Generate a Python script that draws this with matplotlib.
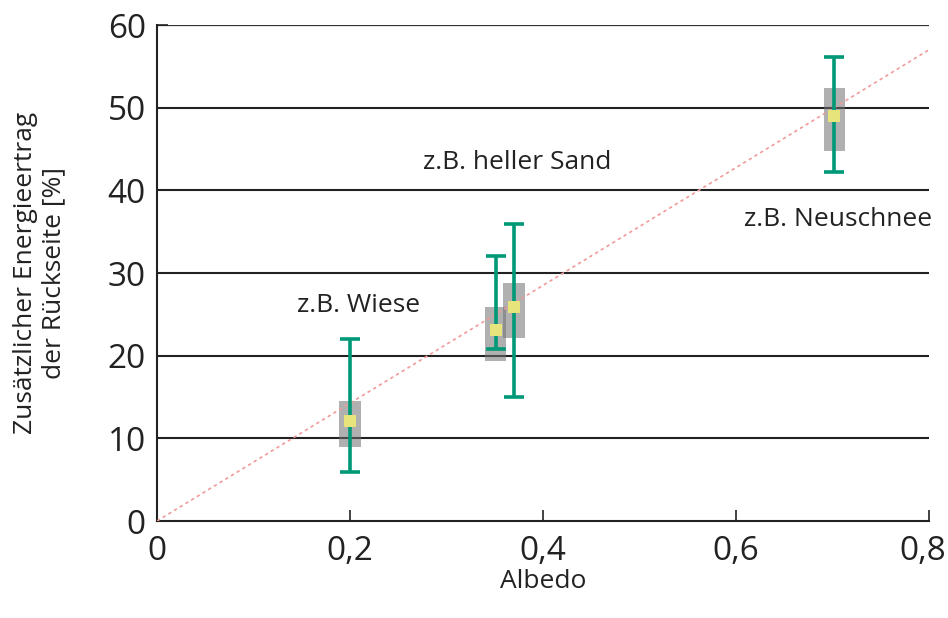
import matplotlib
matplotlib.use("Agg")
import matplotlib.pyplot as plt
from matplotlib.transforms import ScaledTranslation

plt.rcParams['font.family'] = ['Open Sans', 'DejaVu Sans']

albedo = [0.2, 0.351, 0.37, 0.702]
mean_gain = [12.1, 23.1, 25.9, 49.0]
err_low = [5.9, 20.8, 15.0, 42.2]
err_high = [22.0, 32.1, 35.9, 56.1]
box_low = [8.9, 19.3, 22.1, 44.7]
box_high = [14.5, 25.9, 28.8, 52.4]
trend_x = [0.0, 0.8]
trend_y = [0.0, 57.0]
labels = ["z.B. Wiese", "z.B. heller Sand", "z.B. Neuschnee"]
label_x = [0.209, 0.373, 0.706]
label_y = [26.1, 43.4, 36.5]
xticks = [0, 0.2, 0.4, 0.6, 0.8]
xticklabels = ["0", "0,2", "0,4", "0,6", "0,8"]
yticks = [0, 10, 20, 30, 40, 50, 60]

fig = plt.figure(figsize=(9.48, 6.18), dpi=100)
ax = fig.add_axes([157/948, 97/618, (929-157)/948, (521-25)/618])

ax.set_xlim(0, 0.8)
ax.set_ylim(0, 60)

for y in yticks[1:-1]:
    ax.axhline(y, color='#222222', lw=1.5, zorder=1)
ax.axhline(60, color='#333333', lw=0.9, zorder=1)

box_w = 0.022
for x, lo, hi in zip(albedo, box_low, box_high):
    ax.bar(x, hi - lo, bottom=lo, width=box_w, color='#707070', alpha=0.55,
           linewidth=0, zorder=2)

ax.plot(trend_x, trend_y, color='#f29a9a', lw=1.2, ls=(0, (2, 2)), zorder=3)

yerr = [[m - l for m, l in zip(mean_gain, err_low)],
        [h - m for m, h in zip(mean_gain, err_high)]]
ax.errorbar(albedo, mean_gain, yerr=yerr, fmt='none', ecolor='#009977',
            elinewidth=2.6, capsize=7.5, capthick=2.6, zorder=4)
ax.plot(albedo, mean_gain, ls='none', marker='s', markersize=8,
        color='#e8e47c', markeredgewidth=0, zorder=5)

for t, x, y in zip(labels, label_x, label_y):
    ax.text(x, y, t, ha='center', va='center', fontsize=19, color='#222222')

ax.spines['right'].set_visible(False)
ax.spines['top'].set_visible(False)
for s in ['left', 'bottom']:
    ax.spines[s].set_linewidth(1.5)
    ax.spines[s].set_color('#222222')

ax.set_xticks(xticks)
ax.set_xticklabels(xticklabels)
ax.set_yticks(yticks)
ax.tick_params(axis='both', direction='in', length=8, width=1.2,
               colors='#222222', labelsize=24)
ax.tick_params(axis='x', pad=10)
ax.tick_params(axis='y', pad=8)

last = ax.get_xticklabels()[-1]
last.set_transform(last.get_transform() + ScaledTranslation(-6/100, 0, fig.dpi_scale_trans))

ax.set_xlabel("Albedo", fontsize=19, color='#222222', labelpad=1)
ax.set_ylabel("Zusätzlicher Energieertrag\nder Rückseite [%]", fontsize=19,
              color='#222222', labelpad=30, linespacing=1.15)

fig.savefig("out.png", dpi=100)
